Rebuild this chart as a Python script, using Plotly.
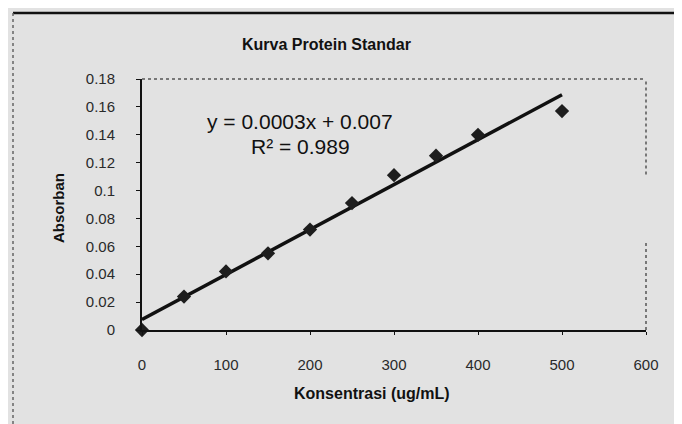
import numpy as np
import plotly.graph_objects as go

konsentrasi = [0, 50, 100, 150, 200, 250, 300, 350, 400, 500]
absorban = [0, 0.024, 0.042, 0.055, 0.072, 0.091, 0.111, 0.125, 0.140, 0.157]
y_ticks = [0, 0.02, 0.04, 0.06, 0.08, 0.1, 0.12, 0.14, 0.16, 0.18]
y_ticktext = ["0", "0.02", "0.04", "0.06", "0.08", "0.1", "0.12", "0.14", "0.16", "0.18"]
x_ticks = [0, 100, 200, 300, 400, 500, 600]

slope, intercept = np.polyfit(konsentrasi, absorban, 1)
fit_x = [min(konsentrasi), max(konsentrasi)]
fit_y = [slope * v + intercept for v in fit_x]

FONT = "Liberation Sans, Arial, sans-serif"

# plot area in window pixels (page has an 8px body margin)
PL, PR, PT, PB = 142, 646, 79, 330
PW, PH = PR - PL, PB - PT


def px(x):
    return (x - PL) / PW


def py(y):
    return (PB - y) / PH


fig = go.Figure()
fig.add_trace(go.Scatter(x=fit_x, y=fit_y, mode="lines",
                         line=dict(color="#111111", width=3.5), showlegend=False))
fig.add_trace(go.Scatter(x=konsentrasi, y=absorban, mode="markers",
                         marker=dict(symbol="diamond", size=11, color="#1e1e1e"),
                         showlegend=False, cliponaxis=False))

W, H = 674, 416
fig.update_layout(
    width=W, height=H,
    margin=dict(l=PL - 8, r=W + 8 - PR, t=PT - 8, b=H + 8 - PB),
    paper_bgcolor="#e2e2e2", plot_bgcolor="#e2e2e2",
    font=dict(family=FONT, color="#222222", size=12),
    xaxis=dict(range=[0, 600], tickvals=x_ticks, showgrid=False, zeroline=False,
               showline=True, linecolor="#111111", linewidth=2,
               ticks="outside", ticklen=3, tickcolor="#111111",
               ticklabelstandoff=17, tickfont=dict(size=15, color="#2a2a2a")),
    yaxis=dict(range=[0, 0.18], tickvals=y_ticks, ticktext=y_ticktext,
               showgrid=False, zeroline=False,
               showline=True, linecolor="#111111", linewidth=2,
               ticks="outside", ticklen=4, tickcolor="#111111",
               ticklabelstandoff=18, tickfont=dict(size=15, color="#2a2a2a")),
    shapes=[
        dict(type="line", xref="paper", yref="paper", x0=0, x1=1, y0=1, y1=1,
             line=dict(color="#555555", width=1.5, dash="dot")),
        dict(type="line", xref="paper", yref="paper", x0=1, x1=1, y0=0.62, y1=1,
             line=dict(color="#555555", width=1.5, dash="dot")),
        dict(type="line", xref="paper", yref="paper", x0=1, x1=1, y0=0, y1=0.35,
             line=dict(color="#555555", width=1.5, dash="dot")),
        dict(type="line", xref="paper", yref="paper", x0=px(13), x1=px(690),
             y0=py(13), y1=py(13), line=dict(color="#111111", width=2.5)),
        dict(type="line", xref="paper", yref="paper", x0=px(13), x1=px(13),
             y0=py(430), y1=py(13), line=dict(color="#666666", width=1.5, dash="dot")),
    ],
    annotations=[
        dict(text="<b>Kurva Protein Standar</b>", xref="paper", yref="paper",
             x=px(326), y=py(45), xanchor="center", yanchor="middle",
             showarrow=False, font=dict(size=16, color="#111111")),
        dict(text="<b>Konsentrasi (ug/mL)</b>", xref="paper", yref="paper",
             x=px(372), y=py(393), xanchor="center", yanchor="middle",
             showarrow=False, font=dict(size=16, color="#111111")),
        dict(text="<b>Absorban</b>", xref="paper", yref="paper", textangle=-90,
             x=px(58), y=py(208), xanchor="center", yanchor="middle",
             showarrow=False, font=dict(size=15, color="#111111")),
        dict(text="y = 0.0003x + 0.007", xref="paper", yref="paper",
             x=px(300), y=py(121), xanchor="center", yanchor="middle",
             showarrow=False, font=dict(size=21, color="#111111")),
        dict(text="R² = 0.989", xref="paper", yref="paper",
             x=px(300), y=py(146), xanchor="center", yanchor="middle",
             showarrow=False, font=dict(size=21, color="#111111")),
    ],
)

fig.write_html("out.html")
